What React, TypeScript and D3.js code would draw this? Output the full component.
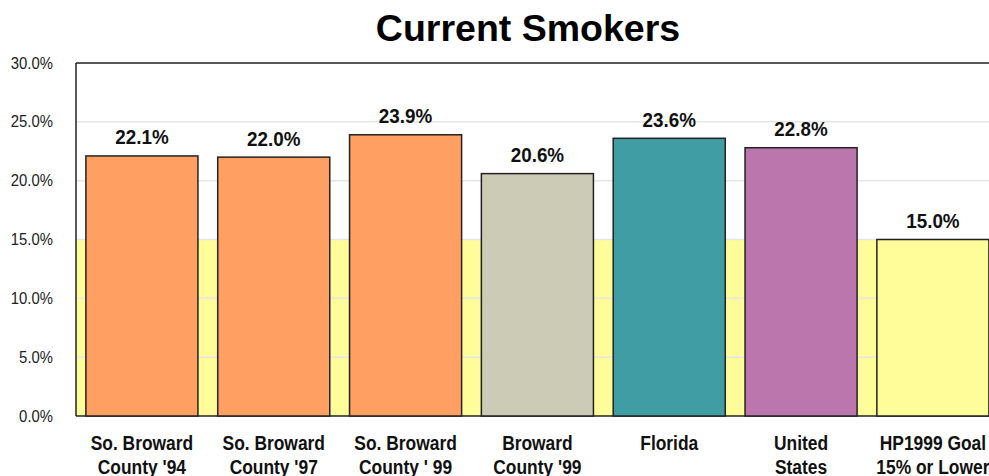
import React from "react";
import * as d3 from "d3";

const categories: string[][] = [
  ["So. Broward", "County '94"],
  ["So. Broward", "County '97"],
  ["So. Broward", "County ' 99"],
  ["Broward", "County '99"],
  ["Florida"],
  ["United", "States"],
  ["HP1999 Goal", "15% or Lower"],
];
const values: number[] = [22.1, 22.0, 23.9, 20.6, 23.6, 22.8, 15.0];
const barColors: string[] = ["#FF9F62", "#FF9F62", "#FF9F62", "#CCCBB5", "#419DA4", "#BA76AD", "#FFFD99"];
const yTicks: number[] = [0, 5, 10, 15, 20, 25, 30];
const goalValue = 15;
const title = "Current Smokers";

const W = 989;
const H = 476;
const left = 76;
const top = 63;
const bottom = 416;
const step = 131.83;
const right = left + step * categories.length;

export default function App() {
  const x = d3
    .scaleBand<number>()
    .domain(d3.range(categories.length))
    .range([left, right])
    .paddingInner(0.15)
    .paddingOuter(0.075);
  const y = d3.scaleLinear().domain([0, 30]).range([bottom, top]);
  const fmt = (v: number) => d3.format(".1f")(v) + "%";
  const font = "'Liberation Sans', Arial, sans-serif";

  return (
    <svg
      width={W}
      height={H}
      style={{ position: "fixed", left: 0, top: 0, background: "#fff" }}
      fontFamily={font}
    >
      <rect x={0} y={0} width={W} height={H} fill="#fff" />
      <text x={528} y={41} textAnchor="middle" fontSize={37.5} fontWeight="bold" fill="#000">
        {title}
      </text>
      {/* goal band */}
      <rect x={left} y={y(goalValue)} width={right - left} height={y(0) - y(goalValue)} fill="#FFFD99" />
      {/* gridlines */}
      {yTicks.filter((t) => t > 0 && t < 30).map((t) => (
        <line key={t} x1={left} x2={right} y1={y(t)} y2={y(t)} stroke="#E6E6E6" strokeWidth={1.5} />
      ))}
      {/* frame */}
      <line x1={left} x2={left} y1={top} y2={bottom} stroke="#222" strokeWidth={1.5} />
      <line x1={left} x2={right} y1={top} y2={top} stroke="#222" strokeWidth={1.5} />
      <line x1={left} x2={right} y1={bottom} y2={bottom} stroke="#222" strokeWidth={1.5} />
      {/* y tick labels */}
      {yTicks.map((t) => (
        <text
          key={t}
          transform={`translate(53,${y(t) + 5.5}) scale(0.93,1)`}
          textAnchor="end"
          fontSize={16}
          fill="#222"
        >
          {fmt(t)}
        </text>
      ))}
      {/* bars */}
      {values.map((v, i) => (
        <g key={i}>
          <rect
            x={x(i)!}
            y={y(v)}
            width={x.bandwidth()}
            height={y(0) - y(v)}
            fill={barColors[i]}
            stroke="#222"
            strokeWidth={1.5}
          />
          <text
            transform={`translate(${x(i)! + x.bandwidth() / 2},${y(v) - 11.5}) scale(0.92,1)`}
            textAnchor="middle"
            fontSize={20.5}
            fontWeight="bold"
            fill="#111"
          >
            {fmt(v)}
          </text>
          {categories[i].map((line, j) => (
            <text
              key={j}
              transform={`translate(${x(i)! + x.bandwidth() / 2},${449.5 + j * 24}) scale(0.87,1)`}
              textAnchor="middle"
              fontSize={20}
              fontWeight="bold"
              fill="#111"
            >
              {line}
            </text>
          ))}
        </g>
      ))}
    </svg>
  );
}
